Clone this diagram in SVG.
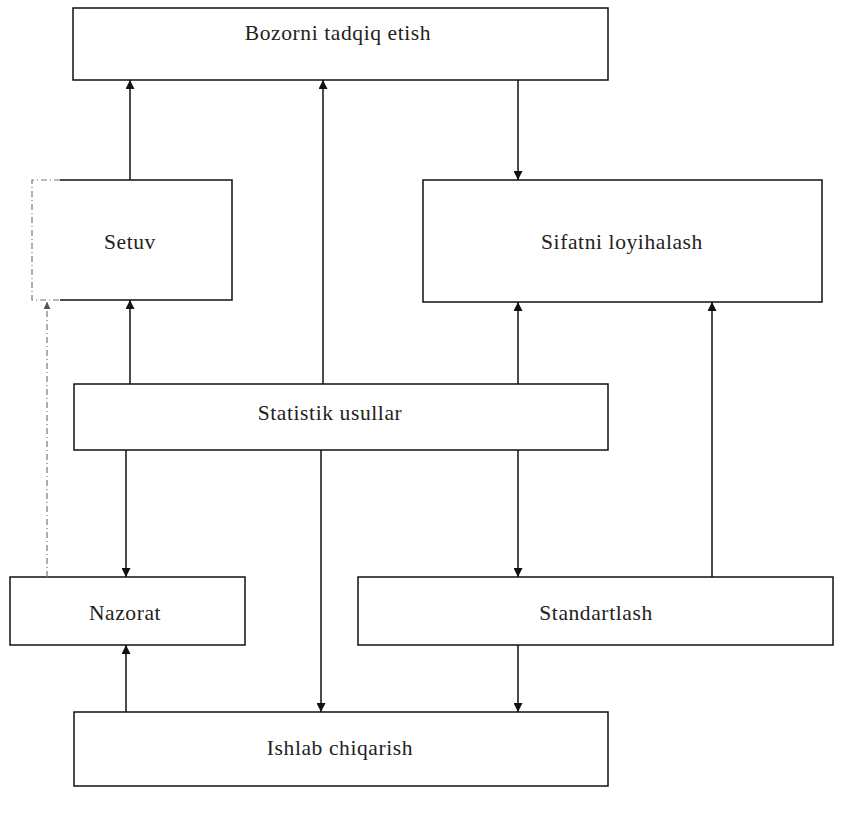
<svg xmlns="http://www.w3.org/2000/svg" width="861" height="822" viewBox="0 0 861 822">
<style>
.box{fill:#fff;stroke:#111;stroke-width:1.5}
.lbl{font-family:"Liberation Serif","Times New Roman",serif;font-size:21.5px;fill:#222;text-anchor:middle;letter-spacing:0.6px}
.ln{stroke:#111;stroke-width:1.5;fill:none}
.dash{stroke:#777;stroke-width:1.2;fill:none;stroke-dasharray:6 3 1 3}
</style>
<defs>
<marker id="ah" viewBox="0 0 10 10" refX="10" refY="5" markerWidth="11" markerHeight="9" markerUnits="userSpaceOnUse" orient="auto">
<path d="M0,0 L10,5 L0,10 z" fill="#111"/>
</marker>
<marker id="ahs" viewBox="0 0 10 10" refX="10" refY="5" markerWidth="7" markerHeight="7" markerUnits="userSpaceOnUse" orient="auto">
<path d="M0,0 L10,5 L0,10 z" fill="#555"/>
</marker>
</defs>
<g id="bozorni">
<rect class="box" x="73" y="8" width="535" height="72"/>
<text class="lbl" x="338" y="40">Bozorni tadqiq etish</text>
</g>
<g id="setuv">
<path class="ln" d="M60,180 L232,180 L232,300 L60,300"/>
<path class="dash" d="M60,180 L32,180 L32,300 L60,300"/>
<text class="lbl" x="130" y="249">Setuv</text>
</g>
<g id="sifatni">
<rect class="box" x="423" y="180" width="399" height="122"/>
<text class="lbl" x="622" y="249">Sifatni loyihalash</text>
</g>
<g id="statistik">
<rect class="box" x="74" y="384" width="534" height="66"/>
<text class="lbl" x="330" y="420">Statistik usullar</text>
</g>
<g id="nazorat">
<rect class="box" x="10" y="577" width="235" height="68"/>
<text class="lbl" x="125" y="620">Nazorat</text>
</g>
<g id="standartlash">
<rect class="box" x="358" y="577" width="475" height="68"/>
<text class="lbl" x="596" y="620">Standartlash</text>
</g>
<g id="ishlab">
<rect class="box" x="74" y="712" width="534" height="74"/>
<text class="lbl" x="340" y="755">Ishlab chiqarish</text>
</g>
<g id="connectors">
<line class="ln" x1="130" y1="180" x2="130" y2="80" marker-end="url(#ah)"/>
<line class="ln" x1="323" y1="384" x2="323" y2="80" marker-end="url(#ah)"/>
<line class="ln" x1="518" y1="80" x2="518" y2="180" marker-end="url(#ah)"/>
<line class="ln" x1="130" y1="384" x2="130" y2="300" marker-end="url(#ah)"/>
<line class="ln" x1="518" y1="384" x2="518" y2="302" marker-end="url(#ah)"/>
<line class="ln" x1="712" y1="577" x2="712" y2="302" marker-end="url(#ah)"/>
<line class="ln" x1="126" y1="450" x2="126" y2="577" marker-end="url(#ah)"/>
<line class="ln" x1="321" y1="450" x2="321" y2="712" marker-end="url(#ah)"/>
<line class="ln" x1="518" y1="450" x2="518" y2="577" marker-end="url(#ah)"/>
<line class="ln" x1="518" y1="645" x2="518" y2="712" marker-end="url(#ah)"/>
<line class="ln" x1="126" y1="712" x2="126" y2="645" marker-end="url(#ah)"/>
<line class="dash" x1="47" y1="577" x2="47" y2="302" marker-end="url(#ahs)"/>
</g>
</svg>
